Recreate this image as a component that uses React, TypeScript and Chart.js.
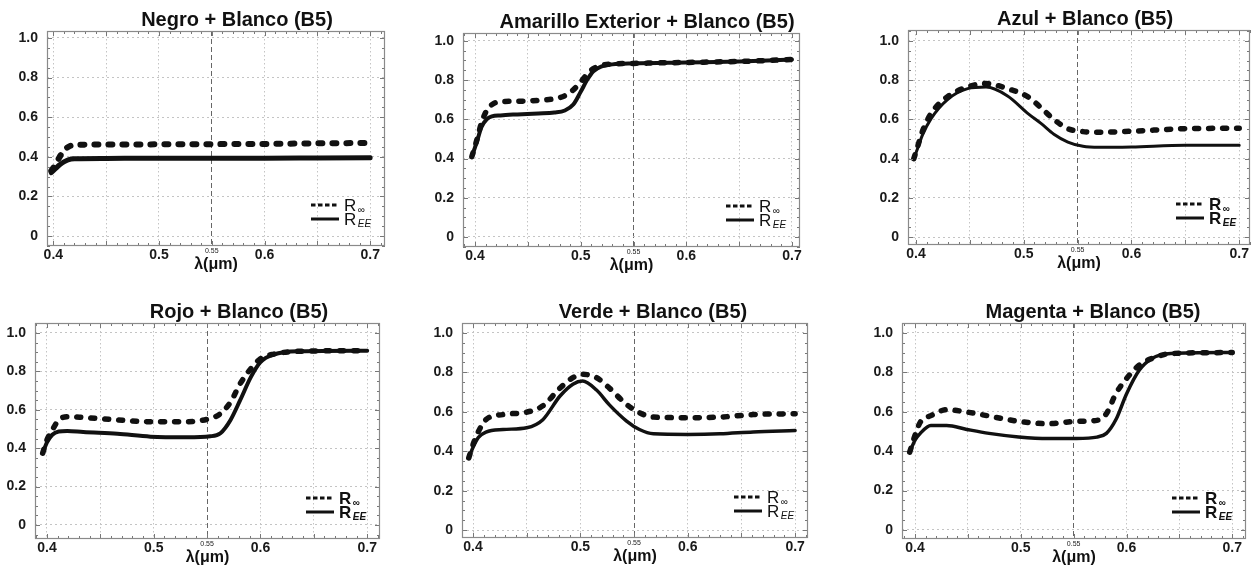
import React, { useEffect, useRef } from 'react';
import { Chart, registerables } from 'chart.js';

Chart.register(...registerables);

// ---------- shared axis ticks ----------
const X_TICKS = [0.4, 0.45, 0.5, 0.55, 0.6, 0.65, 0.7];
const X_LABELS = ['0.4', '', '0.5', '0.55', '0.6', '', '0.7'];
const Y_TICKS = [0, 0.2, 0.4, 0.6, 0.8, 1.0];
const Y_LABELS = ['0', '0.2', '0.4', '0.6', '0.8', '1.0'];
const SERIES_LABELS = ['R∞', 'REE'];
const X_TITLE = 'λ(μm)';
const TITLES = [
  'Negro + Blanco (B5)',
  'Amarillo Exterior + Blanco (B5)',
  'Azul + Blanco (B5)',
  'Rojo + Blanco (B5)',
  'Verde + Blanco (B5)',
  'Magenta + Blanco (B5)',
];

// ---------- data (wavelength µm, reflectance) ----------
const negroX = [0.398, 0.402, 0.406, 0.41, 0.414, 0.42, 0.45, 0.5, 0.55, 0.6, 0.65, 0.7];
const negroRinf = [0.33, 0.36, 0.4, 0.43, 0.45, 0.46, 0.462, 0.463, 0.464, 0.465, 0.468, 0.47];
const negroRee = [0.32, 0.34, 0.36, 0.375, 0.385, 0.39, 0.392, 0.393, 0.393, 0.393, 0.394, 0.395];

const amarX = [0.397, 0.402, 0.406, 0.411, 0.416, 0.424, 0.44, 0.46, 0.475, 0.485, 0.493, 0.5, 0.506, 0.512, 0.52, 0.53, 0.55, 0.6, 0.65, 0.7];
const amarRinf = [0.41, 0.5, 0.58, 0.645, 0.675, 0.69, 0.692, 0.697, 0.705, 0.72, 0.75, 0.79, 0.83, 0.858, 0.875, 0.882, 0.885, 0.89, 0.895, 0.905];
const amarRee = [0.41, 0.49, 0.56, 0.6, 0.615, 0.62, 0.625, 0.63, 0.635, 0.645, 0.675, 0.74, 0.8, 0.845, 0.87, 0.88, 0.885, 0.89, 0.895, 0.905];

const azulX = [0.398, 0.402, 0.406, 0.414, 0.429, 0.448, 0.465, 0.485, 0.504, 0.516, 0.528, 0.541, 0.555, 0.57, 0.6, 0.65, 0.7];
const azulRinf = [0.4, 0.47, 0.54, 0.63, 0.715, 0.766, 0.783, 0.757, 0.715, 0.66, 0.6, 0.553, 0.538, 0.535, 0.54, 0.553, 0.555];
const azulRee = [0.4, 0.46, 0.52, 0.604, 0.7, 0.757, 0.765, 0.72, 0.63, 0.58, 0.525, 0.485, 0.463, 0.458, 0.46, 0.468, 0.468];

const rojoX = [0.396, 0.4, 0.405, 0.411, 0.419, 0.434, 0.466, 0.497, 0.531, 0.553, 0.5625, 0.572, 0.581, 0.591, 0.6, 0.6125, 0.6375, 0.7];
const rojoRinf = [0.374, 0.443, 0.495, 0.547, 0.564, 0.56, 0.547, 0.538, 0.538, 0.555, 0.58, 0.64, 0.736, 0.814, 0.866, 0.89, 0.905, 0.908];
const rojoRee = [0.374, 0.43, 0.47, 0.487, 0.49, 0.484, 0.475, 0.46, 0.457, 0.462, 0.478, 0.547, 0.65, 0.77, 0.848, 0.888, 0.905, 0.908];

const verdeX = [0.396, 0.4, 0.405, 0.412, 0.428, 0.45, 0.465, 0.481, 0.493, 0.502, 0.515, 0.527, 0.543, 0.555, 0.568, 0.6, 0.63, 0.661, 0.7];
const verdeRinf = [0.366, 0.434, 0.5, 0.56, 0.586, 0.598, 0.63, 0.72, 0.773, 0.79, 0.773, 0.72, 0.637, 0.595, 0.573, 0.57, 0.573, 0.586, 0.59];
const verdeRee = [0.366, 0.42, 0.47, 0.497, 0.51, 0.519, 0.56, 0.68, 0.74, 0.756, 0.71, 0.635, 0.553, 0.51, 0.488, 0.485, 0.488, 0.498, 0.505];

const magX = [0.395, 0.4, 0.405, 0.415, 0.43, 0.449, 0.47, 0.498, 0.526, 0.553, 0.572, 0.581, 0.59, 0.6, 0.612, 0.624, 0.642, 0.7];
const magRinf = [0.395, 0.48, 0.547, 0.58, 0.61, 0.598, 0.578, 0.551, 0.539, 0.551, 0.556, 0.59, 0.692, 0.768, 0.836, 0.87, 0.895, 0.9];
const magRee = [0.395, 0.455, 0.49, 0.53, 0.53, 0.51, 0.49, 0.472, 0.464, 0.464, 0.471, 0.49, 0.56, 0.69, 0.81, 0.87, 0.895, 0.9];

// ---------- layout (page pixel boxes of each plot area) ----------
const FONT = "'Liberation Sans', Arial, Helvetica, sans-serif";
const Y_AXIS_W = 46;
const X_AXIS_H = 28;
const TOP_PAD = 31;
const RIGHT_PAD = 6;

const PANELS = [
  { title: TITLES[0], xs: negroX, rinf: negroRinf, ree: negroRee, box: { l: 47, t: 31, r: 385, b: 246 }, xr: [0.394, 0.714], yr: [-0.05, 1.035], titleX: 237, bold: false, wInf: 6, wEE: 5 },
  { title: TITLES[1], xs: amarX, rinf: amarRinf, ree: amarRee, box: { l: 463, t: 33, r: 800, b: 247 }, xr: [0.3886, 0.7076], yr: [-0.051, 1.04], titleX: 647, bold: false, wInf: 5.5, wEE: 4 },
  { title: TITLES[2], xs: azulX, rinf: azulRinf, ree: azulRee, box: { l: 908, t: 30, r: 1250, b: 245 }, xr: [0.3926, 0.71], yr: [-0.04, 1.056], titleX: 1085, bold: true, wInf: 5.5, wEE: 3 },
  { title: TITLES[3], xs: rojoX, rinf: rojoRinf, ree: rojoRee, box: { l: 35, t: 323, r: 380, b: 539 }, xr: [0.3888, 0.712], yr: [-0.073, 1.052], titleX: 239, bold: true, wInf: 5.5, wEE: 4 },
  { title: TITLES[4], xs: verdeX, rinf: verdeRinf, ree: verdeRee, box: { l: 462, t: 323, r: 808, b: 538 }, xr: [0.3897, 0.712], yr: [-0.04, 1.05], titleX: 653, bold: false, wInf: 5.5, wEE: 3.5 },
  { title: TITLES[5], xs: magX, rinf: magRinf, ree: magRee, box: { l: 902, t: 323, r: 1246, b: 539 }, xr: [0.3877, 0.713], yr: [-0.046, 1.05], titleX: 1093, bold: true, wInf: 5.5, wEE: 3.5 },
];

const near = (a: number, b: number) => Math.abs(a - b) < 1e-6;

const decorPlugin = {
  id: 'panelDecor',
  afterDatasetsDraw(chart: any, _args: any, opts: any) {
    const { ctx, chartArea: a, scales } = chart;
    const xs = scales.x;
    const ys = scales.y;
    ctx.save();
    // minor ticks along the frame
    ctx.strokeStyle = '#777';
    ctx.lineWidth = 1;
    ctx.setLineDash([]);
    ctx.beginPath();
    for (let i = 38; i <= 72; i++) {
      const v = i / 100;
      if (v < xs.min || v > xs.max) continue;
      const px = Math.round(xs.getPixelForValue(v)) + 0.5;
      const len = i % 5 === 0 ? 5 : 3;
      ctx.moveTo(px, a.bottom);
      ctx.lineTo(px, a.bottom - len);
      ctx.moveTo(px, a.top);
      ctx.lineTo(px, a.top + len);
    }
    for (let i = -2; i <= 22; i++) {
      const v = i * 0.05;
      if (v < ys.min || v > ys.max) continue;
      const py = Math.round(ys.getPixelForValue(v)) + 0.5;
      const len = i % 4 === 0 ? 5 : 3;
      ctx.moveTo(a.left, py);
      ctx.lineTo(a.left + len, py);
      ctx.moveTo(a.right, py);
      ctx.lineTo(a.right - len, py);
    }
    ctx.stroke();
    // frame
    ctx.strokeStyle = '#8a8a8a';
    ctx.lineWidth = 1.2;
    ctx.strokeRect(a.left + 0.5, a.top + 0.5, a.right - a.left - 1, a.bottom - a.top - 1);
    // title
    ctx.fillStyle = '#111';
    ctx.font = `bold 20px ${FONT}`;
    ctx.textAlign = 'center';
    ctx.textBaseline = 'middle';
    ctx.fillText(opts.text, (a.left + a.right) / 2 + opts.dx, a.top - 11);
    // legend (inside, bottom right)
    const weight = opts.bold ? 'bold' : 'normal';
    chart.data.datasets.forEach((ds: any, i: number) => {
      const y = a.bottom - 41 + i * 14;
      ctx.strokeStyle = '#111';
      ctx.lineWidth = 3;
      ctx.lineCap = 'butt';
      ctx.setLineDash(i === 0 ? [4.5, 2.5] : []);
      ctx.beginPath();
      ctx.moveTo(a.right - 74, y);
      ctx.lineTo(a.right - 46, y);
      ctx.stroke();
      ctx.setLineDash([]);
      ctx.textAlign = 'left';
      ctx.textBaseline = 'alphabetic';
      ctx.font = `${weight} 17px ${FONT}`;
      const main = ds.label.slice(0, 1);
      const sub = ds.label.slice(1);
      ctx.fillText(main, a.right - 41, y + 6);
      const w = ctx.measureText(main).width;
      ctx.font = `italic ${weight} 10px ${FONT}`;
      ctx.fillText(sub, a.right - 41 + w + 1.5, y + 8);
    });
    ctx.restore();
  },
};

function Panel({ cfg }: { cfg: any }) {
  const ref = useRef<HTMLCanvasElement | null>(null);
  const { box } = cfg;
  const left = box.l - Y_AXIS_W;
  const top = box.t - TOP_PAD;
  const width = box.r - box.l + Y_AXIS_W + RIGHT_PAD;
  const height = box.b - box.t + TOP_PAD + X_AXIS_H;

  useEffect(() => {
    if (!ref.current) return;
    const toPts = (ys: number[]) => cfg.xs.map((x: number, i: number) => ({ x, y: ys[i] }));
    const chart = new Chart(ref.current, {
      type: 'line',
      data: {
        datasets: [
          {
            label: SERIES_LABELS[0],
            data: toPts(cfg.rinf),
            borderColor: '#111',
            borderWidth: cfg.wInf,
            borderDash: [4, 10],
            borderCapStyle: 'round',
            pointRadius: 0,
            cubicInterpolationMode: 'monotone',
            fill: false,
          },
          {
            label: SERIES_LABELS[1],
            data: toPts(cfg.ree),
            borderColor: '#111',
            borderWidth: cfg.wEE,
            borderCapStyle: 'round',
            pointRadius: 0,
            cubicInterpolationMode: 'monotone',
            fill: false,
          },
        ],
      },
      options: {
        responsive: false,
        animation: false,
        devicePixelRatio: 1,
        layout: { padding: { top: TOP_PAD, right: RIGHT_PAD, left: 0, bottom: 0 } },
        plugins: {
          legend: { display: false },
          title: { display: false },
          tooltip: { enabled: false },
          panelDecor: { text: cfg.title, dx: cfg.titleX - (box.l + box.r) / 2, bold: cfg.bold },
        } as any,
        scales: {
          x: {
            type: 'linear',
            min: cfg.xr[0],
            max: cfg.xr[1],
            afterBuildTicks: (s: any) => {
              s.ticks = X_TICKS.map((v) => ({ value: v }));
            },
            afterFit: (s: any) => {
              s.height = X_AXIS_H;
            },
            ticks: {
              autoSkip: false,
              maxRotation: 0,
              padding: 1,
              color: '#1a1a1a',
              callback: (_v: any, i: number) => X_LABELS[i],
              font: (ctx: any) =>
                ctx.tick && near(ctx.tick.value, 0.55)
                  ? { family: FONT, size: 7, weight: 'normal' }
                  : { family: FONT, size: 14, weight: 'bold' },
            },
            grid: {
              drawTicks: false,
              lineWidth: 1,
              color: (ctx: any) => (ctx.tick && near(ctx.tick.value, 0.55) ? '#666' : '#c4c4c4'),
            },
            border: {
              display: false,
              dash: (ctx: any) => (ctx.tick && near(ctx.tick.value, 0.55) ? [5, 3] : [1.5, 2.5]),
            } as any,
            title: {
              display: true,
              text: X_TITLE,
              padding: 0,
              color: '#111',
              font: { family: FONT, size: 16, weight: 'bold' },
            },
          },
          y: {
            type: 'linear',
            min: cfg.yr[0],
            max: cfg.yr[1],
            afterBuildTicks: (s: any) => {
              s.ticks = Y_TICKS.map((v) => ({ value: v }));
            },
            afterFit: (s: any) => {
              s.width = Y_AXIS_W;
            },
            ticks: {
              padding: 9,
              color: '#1a1a1a',
              callback: (_v: any, i: number) => Y_LABELS[i],
              font: { family: FONT, size: 14, weight: 'bold' },
            },
            grid: { drawTicks: false, lineWidth: 1, color: '#c4c4c4' },
            border: { display: false, dash: [2, 3] } as any,
          },
        },
      },
      plugins: [decorPlugin as any],
    } as any);
    return () => chart.destroy();
  }, []);

  return (
    <canvas
      ref={ref}
      width={width}
      height={height}
      style={{ position: 'absolute', left, top, width, height }}
    />
  );
}

export default function App() {
  return (
    <div
      style={{
        position: 'absolute',
        left: 0,
        top: 0,
        width: 1254,
        height: 568,
        overflow: 'hidden',
        background: '#fff',
      }}
    >
      {PANELS.map((p, i) => (
        <Panel key={i} cfg={p} />
      ))}
    </div>
  );
}
